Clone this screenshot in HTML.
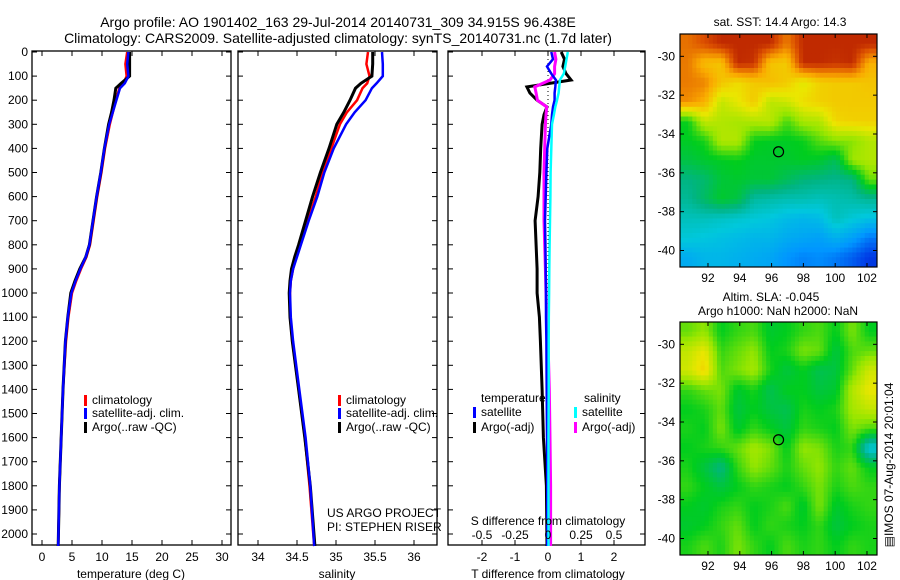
<!DOCTYPE html>
<html><head><meta charset="utf-8"><style>
body{margin:0;background:#fff;}
svg{display:block;font-family:"Liberation Sans",sans-serif;}
text{fill:#000;font-size:12px;}
</style></head><body>
<svg id="c" width="900" height="580" viewBox="0 0 900 580">
<text x="338" y="27" text-anchor="middle" style="font-size:14px">Argo profile: AO 1901402_163 29-Jul-2014 20140731_309 34.915S 96.438E</text>
<text x="338" y="43" text-anchor="middle" style="font-size:14px">Climatology: CARS2009. Satellite-adjusted climatology: synTS_20140731.nc (1.7d later)</text>
</svg>
<script>
// ---------- data ----------
const depthTicks=[0,100,200,300,400,500,600,700,800,900,1000,1100,1200,1300,1400,1500,1600,1700,1800,1900,2000];
const tTicks=[0,5,10,15,20,25,30];
const sTicks=[34,34.5,35,35.5,36];
const dTTicks=[-2,-1,0,1,2];
const dSTicks=[-0.5,-0.25,0,0.25,0.5];
const dSTickLabels=["-0.5","-0.25","0","0.25","0.5"];
const latTicks=[-30,-32,-34,-36,-38,-40];
const lonTicks=[92,94,96,98,100,102];

const depths=[0,50,100,130,150,200,250,300,400,500,600,700,800,850,900,950,1000,1100,1200,1400,1600,1800,2050];
const tempClim=[14.2,13.9,14.1,13.6,12.9,12.3,11.8,11.3,10.5,9.9,9.2,8.6,8.0,7.4,6.5,5.7,5.0,4.4,4.0,3.5,3.2,2.9,2.7];
const tempSat =[14.4,14.2,14.4,13.8,13.0,12.4,11.8,11.2,10.4,9.8,9.1,8.5,7.9,7.3,6.4,5.6,4.9,4.3,3.9,3.5,3.2,2.9,2.7];
const tempArgo=[14.6,14.6,14.6,13.2,12.3,12.0,11.6,11.1,10.4,9.8,9.1,8.5,7.9,7.3,6.3,5.5,4.8,4.3,3.9,3.5,3.2,2.9,2.7];
const salClim =[35.41,35.39,35.43,35.40,35.34,35.27,35.14,35.05,34.94,34.83,34.74,34.64,34.54,34.49,34.45,34.42,34.41,34.41,34.44,34.52,34.60,34.66,34.72];
const salSat  =[35.59,35.60,35.60,35.52,35.46,35.38,35.24,35.13,34.97,34.85,34.76,34.65,34.55,34.50,34.45,34.42,34.41,34.42,34.45,34.53,34.61,34.67,34.72];
const salArgo =[35.47,35.47,35.46,35.32,35.25,35.18,35.10,35.01,34.91,34.80,34.70,34.61,34.52,34.47,34.43,34.41,34.40,34.41,34.44,34.52,34.60,34.67,34.73];
const diffDepths=[0,30,60,90,116,145,170,200,228,260,300,400,500,600,700,800,900,1000,1100,1200,1400,1600,1800,2050];
const dTArgo=[0.4,0.5,0.45,0.55,0.7,-0.64,-0.55,-0.33,-0.03,-0.12,-0.18,-0.22,-0.25,-0.3,-0.39,-0.36,-0.33,-0.33,-0.26,-0.23,-0.18,-0.14,-0.05,-0.03];
const dTSat =[0.1,0.15,-0.03,0.1,0.24,0.22,0.2,0.2,0.15,0.12,0.1,-0.02,-0.05,-0.07,-0.09,-0.08,-0.07,-0.06,-0.06,-0.05,-0.04,-0.03,-0.02,-0.02];
const dSArgo=[0.05,0.06,0.05,0.05,0.015,-0.1,-0.09,-0.08,-0.01,-0.015,-0.02,-0.025,-0.03,-0.03,-0.03,-0.025,-0.02,-0.015,-0.01,0.0,0.01,0.015,0.02,0.02];
const dSSat =[0.15,0.14,0.13,0.12,0.09,0.085,0.08,0.068,0.055,0.045,0.03,0.025,0.02,0.018,0.015,0.012,0.01,0.008,0.006,0.005,0.005,0.004,0.004,0.004];

const sstGrid=[
[18.2,18.6,19,19,19,19,18.1,19,19,19,19,19],
[18.1,17.3,17.2,19,18.9,17.2,17.1,19,19,18.9,19,17.5],
[18.1,18,17.2,16.8,17.1,17.3,17.1,16.5,17.0,17.1,17.1,17.2],
[17.9,17.5,16.2,16.6,17.1,16.1,16.3,16.8,17.0,17.1,17.1,17.1],
[14.8,16.2,16.0,15.9,16.0,16.1,15.2,15.9,16.0,16.9,17.0,17.0],
[14.7,14.9,16.0,16.0,14.8,14.7,14.7,14.8,15.3,15.6,15.6,16.0],
[14.4,14.6,14.7,14.8,14.6,14.6,14.6,14.7,14.6,14.2,15.8,16.0],
[13.8,14.0,14.5,14.6,14.5,14.5,14.2,13.9,13.8,13.7,13.8,15.4],
[13.6,14.1,14.6,14.4,13.5,13.4,13.3,13.3,13.2,13.3,13.4,13.6],
[13.2,13.2,13.1,13.0,12.9,12.8,12.6,12.5,12.6,13.2,12.9,12.7],
[12.9,12.8,12.7,12.6,12.5,12.5,12.3,12.2,12.1,12.4,12.1,11.6],
[12.3,12.5,12.5,12.4,12.3,12.2,11.9,11.7,11.8,11.6,11.3,10.9]];
const slaGrid=[
[0.04,0.06,0.0,0.02,0.03,-0.01,0.0,0.02,0.03,0.0,0.05,0.0],
[0.09,0.12,0.02,0.04,0.06,0.0,0.01,0.05,0.04,-0.02,0.03,0.04],
[0.1,0.14,0.03,0.05,0.07,0.01,-0.02,0.0,-0.03,-0.02,0.04,0.1],
[0.02,0.04,0.05,-0.01,0.01,-0.03,0.0,0.0,-0.02,-0.01,0.08,0.12],
[0.0,0.01,0.04,-0.02,0.0,-0.02,-0.03,0.01,0.0,0.01,0.07,0.09],
[0.01,0.0,0.05,-0.01,0.02,0.0,-0.02,0.02,0.01,0.0,0.05,0.03],
[0.0,0.01,0.02,0.04,0.07,0.05,0.0,0.06,0.05,0.01,0.02,-0.12],
[0.01,-0.02,-0.06,0.02,0.06,0.04,0.01,0.04,0.06,0.02,0.04,0.0],
[0.02,0.0,-0.02,0.0,0.02,0.01,0.0,0.02,0.05,0.01,0.03,0.02],
[0.0,-0.01,0.01,0.02,0.0,0.01,0.03,-0.01,0.05,-0.01,0.01,0.02],
[-0.01,0.0,0.02,0.04,0.0,0.02,0.01,0.0,0.02,-0.02,0.0,0.01],
[0.01,0.03,0.01,0.05,0.02,0.0,0.03,0.01,0.02,0.0,0.02,0.01]];

// ---------- helpers ----------
const svg=document.getElementById('c');
const NS='http://www.w3.org/2000/svg';
function mk(tag,attrs,parent){const e=document.createElementNS(NS,tag);for(const k in attrs)e.setAttribute(k,attrs[k]);(parent||svg).appendChild(e);return e;}
function txt(x,y,s,anchor,parent){const t=mk('text',{x:x,y:y,'text-anchor':anchor||'start'},parent);t.textContent=s;return t;}
const Y0=52,YS=0.241;
function yD(d){return Y0+d*YS;}
function lin(d0,d1,p0,p1){return v=>p0+(v-d0)*(p1-p0)/(d1-d0);}

function panel(name,x0,x1,xf,ticks,labels,showDepth){
  const g=mk('g',{});
  
  
  const r=mk('rect',{x:x0,y:51,width:x1-x0,height:494,fill:'none',stroke:'#000','stroke-width':1.3},g);
  
  
  depthTicks.forEach(d=>{
    mk('line',{x1:x0,x2:x0+5,y1:yD(d),y2:yD(d),stroke:'#000'},g);
    mk('line',{x1:x1,x2:x1-5,y1:yD(d),y2:yD(d),stroke:'#000'},g);
    if(showDepth){const t=txt(x0-4,yD(d)+4,String(d),'end',g);
      
      }
  });
  ticks.forEach((v,i)=>{
    mk('line',{x1:xf(v),x2:xf(v),y1:545,y2:540,stroke:'#000'},g);
    mk('line',{x1:xf(v),x2:xf(v),y1:51,y2:56,stroke:'#000'},g);
    if(labels){const t=txt(xf(v),561,labels[i],'middle',g);
      
      }
  });
  return g;
}
function series(name,xs,ds,xf,color,w,parent){
  const pts=xs.map((v,i)=>xf(v).toFixed(1)+','+yD(ds[i]).toFixed(1)).join(' ');
  const p=mk('polyline',{points:pts,fill:'none',stroke:color,'stroke-width':w,'stroke-linejoin':'miter'},parent);
  
  
}
function legendEntry(name,x,y,color,label,parent){
  const g=mk('g',{},parent);
  
  
  mk('rect',{x:x,y:y-9,width:3,height:11,fill:color},g);
  txt(x+8,y,label,'start',g);
}

// ---------- temperature panel ----------
const xT=lin(0,30,42,222);
const pT=panel('temperature-panel',32,231,xT,tTicks,tTicks.map(String),true);
series('temp-climatology-line',tempClim,depths,xT,'#f00',2.5,pT);
series('temp-argo-line',tempArgo,depths,xT,'#000',3,pT);
series('temp-satellite-line',tempSat,depths,xT,'#00f',2.5,pT);
let l=txt(131,578,'temperature (deg C)','middle',pT);

legendEntry('legend-climatology',84,404,'#f00','climatology',pT);
legendEntry('legend-satellite-adj',84,417,'#00f','satellite-adj. clim.',pT);
legendEntry('legend-argo',84,431,'#000','Argo(..raw -QC)',pT);

// ---------- salinity panel ----------
const xS=lin(34,36,258,414);
const pS=panel('salinity-panel',238,437,xS,sTicks,sTicks.map(String),false);
series('sal-climatology-line',salClim,depths,xS,'#f00',2.5,pS);
series('sal-argo-line',salArgo,depths,xS,'#000',3,pS);
series('sal-satellite-line',salSat,depths,xS,'#00f',2.5,pS);
l=txt(337,578,'salinity','middle',pS);

legendEntry('legend-climatology-2',338,404,'#f00','climatology',pS);
legendEntry('legend-satellite-adj-2',338,417,'#00f','satellite-adj. clim.',pS);
legendEntry('legend-argo-2',338,431,'#000','Argo(..raw -QC)',pS);
l=txt(327,517,'US ARGO PROJECT','start',pS);

l=txt(327,531,'PI: STEPHEN RISER','start',pS);


// ---------- difference panel ----------
const xdT=lin(0,1,548,581), xdS=lin(0,0.25,548,581);
const pD=panel('difference-panel',448,645,xdT,dTTicks,dTTicks.map(String),false);
const z=mk('line',{x1:548,x2:548,y1:51,y2:545,stroke:'#000','stroke-dasharray':'1,3'},pD);

series('dT-argo-line',dTArgo,diffDepths,xdT,'#000',3,pD);
series('dS-argo-line',dSArgo,diffDepths,xdS,'#f0f',3,pD);
series('dT-satellite-line',dTSat,diffDepths,xdT,'#00f',2.5,pD);
series('dS-satellite-line',dSSat,diffDepths,xdS,'#0ff',2.5,pD);
dSTicks.forEach((v,i)=>{const t=txt(xdS(v),539,dSTickLabels[i],'middle',pD);
  });
l=txt(548,525,'S difference from climatology','middle',pD);

l=txt(548,578,'T difference from climatology','middle',pD);

l=txt(481,402,'temperature','start',pD);

l=txt(584,402,'salinity','start',pD);

legendEntry('legend-t-satellite',473,416,'#00f','satellite',pD);
legendEntry('legend-t-argo',473,431,'#000','Argo(-adj)',pD);
legendEntry('legend-s-satellite',574,416,'#0ff','satellite',pD);
legendEntry('legend-s-argo',574,431,'#f0f','Argo(-adj)',pD);

// ---------- maps ----------
const CM=[[0,0,0,130],[0.1,0,60,230],[0.2,0,150,255],[0.3,0,200,220],[0.4,0,180,130],[0.5,0,205,30],[0.6,150,230,0],[0.7,235,230,0],[0.8,250,170,0],[0.9,220,80,0],[1,160,0,0]];
function cmap(f){f=Math.max(0,Math.min(1,f));
  for(let i=1;i<CM.length;i++){if(f<=CM[i][0]){const a=CM[i-1],b=CM[i],t=(f-a[0])/(b[0]-a[0]);
    return 'rgb('+[1,2,3].map(k=>Math.round(a[k]+(b[k]-a[k])*t)).join(',')+')';}}
  return 'rgb(160,0,0)';}
function sample(grid,r,c){ // bilinear sample at fractional cell coords
  const R=grid.length,C=grid[0].length;
  r=Math.max(0,Math.min(R-1,r));c=Math.max(0,Math.min(C-1,c));
  const r0=Math.floor(r),c0=Math.floor(c),r1=Math.min(R-1,r0+1),c1=Math.min(C-1,c0+1),fr=r-r0,fc=c-c0;
  return grid[r0][c0]*(1-fr)*(1-fc)+grid[r0][c1]*(1-fr)*fc+grid[r1][c0]*fr*(1-fc)+grid[r1][c1]*fr*fc;}
function map(name,top,grid,vmin,vmax){
  const g=mk('g',{});
  
  
  const L=680,R=877,B=top+233;
  const xL=lin(90.24,102.63,L,R), yL=lin(-28.85,-40.85,top,B);
  const rows=grid.length, cols=grid[0].length, S=4;
  const cw=(R-L)/(cols*S), ch=(B-top)/(rows*S);
  for(let i=0;i<rows*S;i++)for(let j=0;j<cols*S;j++){
    const v=sample(grid,(i+0.5)/S-0.5,(j+0.5)/S-0.5);
    const c=mk('rect',{x:(L+j*cw).toFixed(2),y:(top+i*ch).toFixed(2),width:(cw+0.5).toFixed(2),height:(ch+0.5).toFixed(2),fill:cmap((v-vmin)/(vmax-vmin))},g);
    
    
  }
  const f=mk('rect',{x:L,y:top,width:R-L,height:B-top,fill:'none',stroke:'#000','stroke-width':1.2},g);
  
  latTicks.forEach(v=>{mk('line',{x1:L,x2:L+4,y1:yL(v),y2:yL(v),stroke:'#000'},g);
    mk('line',{x1:R,x2:R-4,y1:yL(v),y2:yL(v),stroke:'#000'},g);
    const t=txt(L-5,yL(v)+4,String(v),'end',g);
    });
  lonTicks.forEach(v=>{mk('line',{x1:xL(v),x2:xL(v),y1:B,y2:B-4,stroke:'#000'},g);
    mk('line',{x1:xL(v),x2:xL(v),y1:top,y2:top+4,stroke:'#000'},g);
    const t=txt(xL(v),B+15,String(v),'middle',g);
    });
  const m=mk('circle',{cx:xL(96.438),cy:yL(-34.915),r:5,fill:'none',stroke:'#000','stroke-width':1.2},g);
  
}
map('sst-map',34,sstGrid,10,19.5);
map('sla-map',322,slaGrid,-0.3,0.3);
l=txt(780,26,'sat. SST: 14.4 Argo: 14.3','middle');

l=txt(771,301,'Altim. SLA: -0.045','middle');

l=txt(778,315,'Argo h1000: NaN h2000: NaN','middle');

l=mk('text',{x:0,y:0,'text-anchor':'middle',transform:'translate(893,465) rotate(-90)'});
l.textContent='\u25A4IMOS 07-Aug-2014 20:01:04';

</script>
</body></html>
